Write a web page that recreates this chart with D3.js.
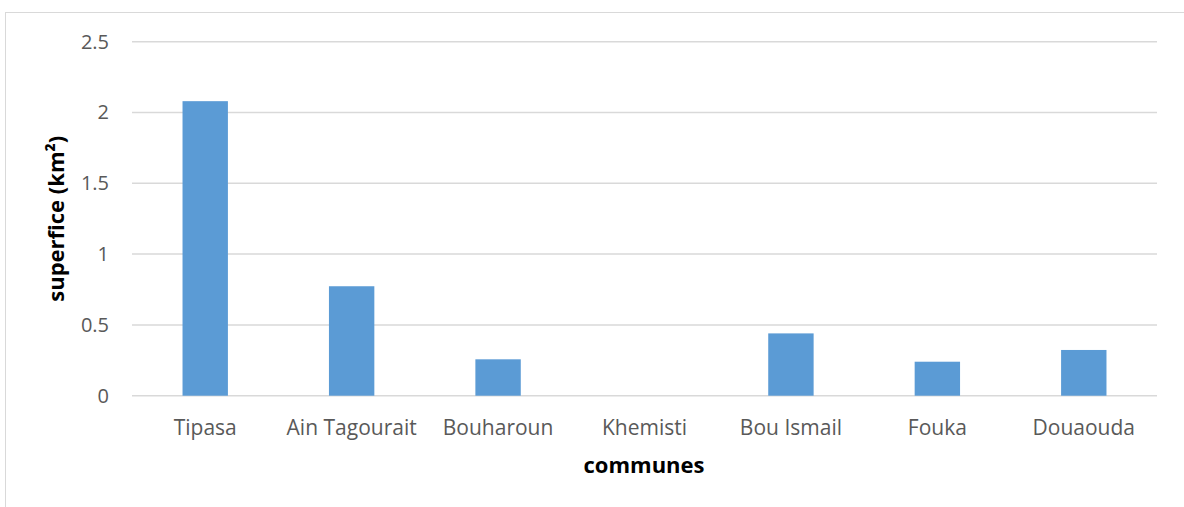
<!DOCTYPE html>
<html>
<head>
<meta charset="utf-8">
<script src="https://cdn.jsdelivr.net/npm/d3@7"></script>
<style>
  body { margin: 0; background: #fff; }
  svg { display: block; }
</style>
</head>
<body>
<svg width="1184" height="507"></svg>
<script>
// communes et superficie (km²)
const communes = ["Tipasa", "Ain Tagourait", "Bouharoun", "Khemisti", "Bou Ismail", "Fouka", "Douaouda"];
const superficie = [2.08, 0.773, 0.257, 0, 0.44, 0.24, 0.323];
const yTicks = [0, 0.5, 1, 1.5, 2, 2.5];

const svg = d3.select("svg");
const font = "'Open Sans', sans-serif";

// cadre du graphique
svg.append("rect")
    .attr("x", 5.5).attr("y", 12.5)
    .attr("width", 1200).attr("height", 600)
    .attr("fill", "none")
    .attr("stroke", "#d9d9d9");

// zone du tracé
const plotLeft = 132, plotRight = 1157, plotTop = 41.7, plotBottom = 395.7;

const x = d3.scaleBand()
    .domain(communes)
    .range([plotLeft, plotRight])
    .paddingInner(0.69)
    .paddingOuter(0.345);

const y = d3.scaleLinear()
    .domain([0, 2.5])
    .range([plotBottom, plotTop]);

// lignes de grille
svg.append("g")
    .selectAll("line")
    .data(yTicks)
    .join("line")
    .attr("x1", plotLeft).attr("x2", plotRight)
    .attr("y1", d => y(d)).attr("y2", d => y(d))
    .attr("stroke", "#d9d9d9")
    .attr("stroke-width", 1.5);

// axe y
const yAxis = svg.append("g")
    .attr("transform", `translate(${plotLeft},0)`)
    .call(d3.axisLeft(y).tickValues(yTicks).tickSize(0).tickPadding(23).tickFormat(d3.format("")));
yAxis.select(".domain").remove();
yAxis.selectAll("text")
    .attr("fill", "#595959")
    .style("font-family", font)
    .style("font-size", "20px");

// barres
svg.append("g")
    .selectAll("rect")
    .data(communes)
    .join("rect")
    .attr("x", d => x(d))
    .attr("width", x.bandwidth())
    .attr("y", (d, i) => y(superficie[i]))
    .attr("height", (d, i) => y(0) - y(superficie[i]))
    .attr("fill", "#5b9bd5");

// axe x
const xAxis = svg.append("g")
    .attr("transform", `translate(0,${plotBottom})`)
    .call(d3.axisBottom(x).tickSize(0).tickPadding(24));
xAxis.select(".domain").remove();
xAxis.selectAll("text")
    .attr("fill", "#595959")
    .style("font-family", font)
    .style("font-size", "21px");

// titres des axes
svg.append("text")
    .attr("x", 644)
    .attr("y", 473)
    .attr("text-anchor", "middle")
    .style("font-family", font)
    .style("font-size", "22px")
    .style("font-weight", "bold")
    .text("communes");

svg.append("text")
    .attr("transform", `translate(64,${(plotTop + plotBottom) / 2}) rotate(-90)`)
    .attr("text-anchor", "middle")
    .style("font-family", font)
    .style("font-size", "22px")
    .style("font-weight", "bold")
    .text("superfice (km²)");
</script>
</body>
</html>
